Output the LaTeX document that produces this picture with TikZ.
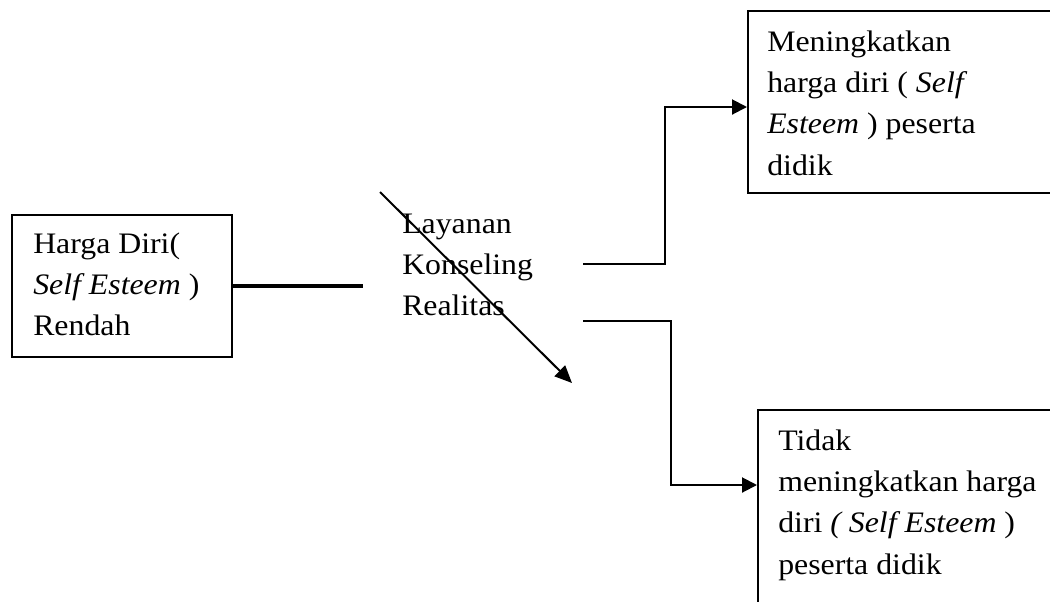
\documentclass[tikz,border=0pt]{standalone}
\usepackage{fontspec}
\usepackage{graphicx}
\setmainfont{Liberation Serif}
\usetikzlibrary{arrows.meta,calc}
\newcommand{\widetext}[1]{\scalebox{1.07}[1]{\fontsize{22.3}{31}\selectfont\begin{tabular}[t]{@{}l@{}}#1\end{tabular}}}
\tikzset{
  boxnode/.style={draw, line width=1.5pt, inner sep=0pt, anchor=north west},
  txt/.style={inner sep=0pt, anchor=base west},
  conn/.style={line width=1.5pt, -{Triangle[length=11.25pt,width=11.25pt]}},
  plain/.style={line width=1.5pt},
}
\begin{document}
\begin{tikzpicture}[x=0.75pt,y=-0.75pt]
\useasboundingbox (0,0) rectangle (1050,601);
\clip (0,0) rectangle (1050,601);
% boxes
\node[boxnode, minimum width=165pt, minimum height=106.5pt] (leftbox) at (11,214) {};
\node[boxnode, minimum width=300pt, minimum height=136.5pt] (topbox) at (747,10) {};
\node[boxnode, minimum width=300pt, minimum height=225pt] (botbox) at (757,409) {};
% texts
\node[txt] (lefttext) at (33,253) {\widetext{Harga Diri(\\\textit{Self Esteem} )\\Rendah}};
\node[txt] (midtext) at (402,233) {\widetext{Layanan\\Konseling\\Realitas}};
\node[txt] (toptext) at (767,51) {\widetext{Meningkatkan\\harga diri ( \textit{Self}\\\textit{Esteem} ) peserta\\didik}};
\node[txt] (bottext) at (778,450) {\widetext{Tidak\\meningkatkan harga\\diri \textit{( Self Esteem} )\\peserta didik}};
% connectors
\coordinate (thickend) at (363,285);
\draw[line width=3pt] (leftbox.east) -- (leftbox.east -| thickend);
\coordinate (diagstart) at (380,192);
\coordinate (diagend) at (572,383);
\draw[line width=1.5pt, -{Triangle[length=13pt,width=11.25pt]}] (diagstart) -- (diagend);
\coordinate (upstart) at (583,264);
\draw[conn] (upstart) -- (665,264) |- ($(topbox.north west)+(0,97)$);
\coordinate (lowstart) at (583,321);
\draw[conn] (lowstart) -- (671,321) |- ($(botbox.north west)+(0,76)$);
\end{tikzpicture}
\end{document}
